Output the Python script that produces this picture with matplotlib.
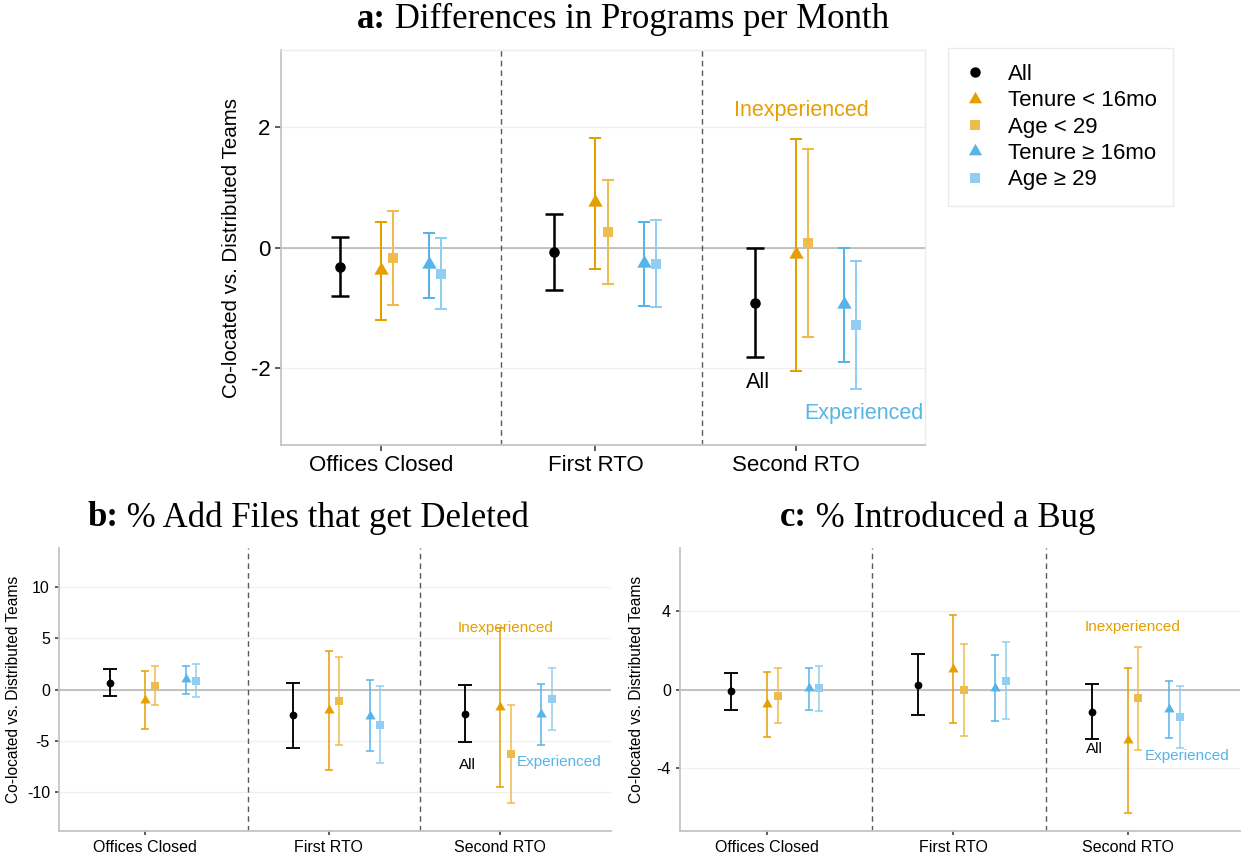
import numpy as np
import matplotlib.pyplot as plt
from matplotlib.lines import Line2D
from matplotlib.colors import to_rgb

plt.rcParams['font.family'] = ['Liberation Sans', 'DejaVu Sans']
plt.rcParams['axes.unicode_minus'] = False

categories = ['Offices Closed', 'First RTO', 'Second RTO']
groups = ['All', 'Tenure < 16mo', 'Age < 29', 'Tenure \u2265 16mo', 'Age \u2265 29']

# a: programs per month  (rows follow `groups`, columns follow `categories`)
a_est = [[-0.32, -0.08, -0.92], [-0.38, 0.76, -0.10], [-0.18, 0.26, 0.07],
         [-0.28, -0.26, -0.94], [-0.44, -0.27, -1.29]]
a_lo = [[-0.81, -0.71, -1.83], [-1.21, -0.35, -2.06], [-0.95, -0.61, -1.49],
        [-0.84, -0.97, -1.91], [-1.02, -0.99, -2.36]]
a_hi = [[0.17, 0.55, 0.00], [0.43, 1.83, 1.81], [0.61, 1.13, 1.64],
        [0.24, 0.43, 0.00], [0.16, 0.46, -0.22]]

# b: % add files that get deleted
b_est = [[0.65, -2.48, -2.38], [-1.00, -1.99, -1.73], [0.39, -1.11, -6.25],
         [1.00, -2.54, -2.38], [0.85, -3.42, -0.94]]
b_lo = [[-0.65, -5.70, -5.15], [-3.88, -7.85, -9.51], [-1.47, -5.37, -11.07],
        [-0.46, -6.03, -5.37], [-0.75, -7.13, -3.97]]
b_hi = [[1.99, 0.68, 0.42], [1.76, 3.75, 5.96], [2.28, 3.16, -1.47],
        [2.28, 0.88, 0.52], [2.48, 0.33, 2.08]]

# c: % introduced a bug
c_est = [[-0.10, 0.25, -1.14], [-0.73, 1.05, -2.56], [-0.31, -0.03, -0.44],
         [0.07, 0.08, -0.98], [0.07, 0.44, -1.41]]
c_lo = [[-1.05, -1.29, -2.53], [-2.41, -1.69, -6.24], [-1.69, -2.37, -3.05],
        [-1.05, -1.61, -2.44], [-1.10, -1.51, -2.98]]
c_hi = [[0.85, 1.81, 0.27], [0.88, 3.75, 1.08], [1.08, 2.32, 2.17],
        [1.08, 1.73, 0.44], [1.20, 2.39, 0.17]]


def lighten(color, alpha):
    r, g, b = to_rgb(color)
    return (r * alpha + 1 - alpha, g * alpha + 1 - alpha, b * alpha + 1 - alpha)


ORANGE = '#E69F00'
BLUE = '#56B4E9'
TRI = [(0, 1), (-0.866, -0.5), (0.866, -0.5)]
colors = ['black', ORANGE, lighten(ORANGE, 0.7), BLUE, lighten(BLUE, 0.65)]
markers = ['o', TRI, 's', TRI, 's']

# layout: category positions, dodge per group, period dividers
cat_pos = np.array([0.93, 2.0, 3.0])
dodge = [-0.205, 0.0, 0.06, 0.24, 0.30]
dividers = [1.53, 2.53]
xlim = (0.43, 3.645)


def draw_panel(ax, est, lo, hi, ylim, yticks, big, label_pos, ann):
    fs = 16 if big else 11.5
    ms = [7.6, 12.0, 7.6, 12.0, 7.6] if big else [5.6, 8.5, 5.6, 8.5, 5.6]
    lw = [1.8, 1.45, 1.45, 1.45, 1.45] if big else [1.35, 1.1, 1.1, 1.1, 1.1]
    cap = [6.8, 4.0, 4.0, 4.0, 4.0] if big else [4.7, 2.9, 2.9, 2.9, 2.9]

    ax.axhline(0, color='#bdbdbd', lw=1.3, zorder=1)
    for d in dividers:
        ax.axvline(d, color='#5a5a5a', lw=1.0, ls=(0, (4, 3)), zorder=1)

    for i in range(len(groups)):
        e = np.array(est[i])
        yerr = [e - np.array(lo[i]), np.array(hi[i]) - e]
        ax.errorbar(cat_pos + dodge[i], e, yerr=yerr, fmt='none',
                    ecolor=colors[i], elinewidth=lw[i], capsize=cap[i],
                    capthick=lw[i], zorder=3)
        ax.plot(cat_pos + dodge[i], e, ls='none', marker=markers[i],
                color=colors[i], ms=ms[i], mew=0, zorder=4)

    ax.set_xlim(*xlim)
    ax.set_ylim(*ylim)
    ax.set_xticks(cat_pos)
    ax.set_xticklabels(categories)
    ax.set_yticks(yticks)
    ax.set_yticklabels([str(t) for t in yticks])
    ax.tick_params(labelsize=fs, colors='#333333', length=4 if big else 3,
                   width=1.1, labelcolor='black')
    ax.grid(axis='y', color='#f0f0f0', lw=1.0, zorder=0)
    ax.set_axisbelow(True)
    if big:
        # faint frame on the top panel
        for s in ['top', 'right']:
            ax.spines[s].set_color('#ebebeb')
            ax.spines[s].set_linewidth(1.0)
    else:
        for s in ['top', 'right']:
            ax.spines[s].set_visible(False)
    for s in ['left', 'bottom']:
        ax.spines[s].set_color('#c4c4c4')
        ax.spines[s].set_linewidth(1.3)

    ax.set_ylabel('Co-located vs. Distributed Teams', fontsize=14.8 if big else 11.2)
    ax.yaxis.set_label_coords(label_pos, 0.5)

    # group annotations next to the Second RTO estimates
    tfs = 15.5 if big else 11
    ax.text(3.03, ann[0], 'Inexperienced', color=ORANGE, fontsize=tfs,
            ha='center', va='center')
    ax.text(2.81, ann[1], 'All', color='black', fontsize=tfs,
            ha='center', va='center')
    ax.text(3.34, ann[2], 'Experienced', color=BLUE, fontsize=tfs,
            ha='center', va='center')


W, H = 1246, 857
fig = plt.figure(figsize=(W / 100, H / 100), dpi=100)


def px_axes(left, top, right, bottom):
    return fig.add_axes([left / W, 1 - bottom / H, (right - left) / W, (bottom - top) / H])


ax_a = px_axes(281, 50, 925, 445)
ax_b = px_axes(59, 548, 611, 831)
ax_c = px_axes(680, 548, 1240, 831)

draw_panel(ax_a, a_est, a_lo, a_hi, (-3.29, 3.29), [-2, 0, 2], True, -0.062,
           (2.28, -2.25, -2.77))
draw_panel(ax_b, b_est, b_lo, b_hi, (-13.8, 13.8), [-10, -5, 0, 5, 10], False, -0.068,
           (5.96, -7.33, -7.1))
draw_panel(ax_c, c_est, c_lo, c_hi, (-7.17, 7.17), [-4, 0, 4], False, -0.065,
           (3.15, -3.0, -3.35))

# legend with just the point shapes
handles = [Line2D([], [], ls='none', marker=markers[i], color=colors[i], mew=0,
                  ms=[7.5, 11.0, 7.5, 11.0, 7.5][i]) for i in range(len(groups))]
leg = fig.legend(handles, groups, loc='upper left', bbox_to_anchor=(948 / W, 1 - 48 / H),
                 fontsize=16, frameon=True, fancybox=False, edgecolor='#e6e6e6',
                 handlelength=1.0, handletextpad=1.0, labelspacing=0.24,
                 borderpad=0.72, borderaxespad=0)
leg.get_frame().set_linewidth(1.0)

# titles: bold panel letter followed by regular text, centred as a whole
serif = ['Liberation Serif', 'DejaVu Serif']
title_specs = [('a:', ' Differences in Programs per Month', 623, 19),
               ('b:', ' % Add Files that get Deleted', 308, 518),
               ('c:', ' % Introduced a Bug', 938, 518)]
fig.canvas.draw()
renderer = fig.canvas.get_renderer()
for letter, rest, cx, cy in title_specs:
    t1 = fig.text(0, 1 - cy / H, letter, fontsize=25, fontweight='bold',
                  family=serif, va='center', ha='left')
    t2 = fig.text(0, 1 - cy / H, rest, fontsize=25, family=serif,
                  va='center', ha='left')
    w1 = t1.get_window_extent(renderer).width
    w2 = t2.get_window_extent(renderer).width
    x0 = cx - (w1 + w2) / 2
    t1.set_x(x0 / W)
    t2.set_x((x0 + w1) / W)

fig.savefig('out.png', dpi=100)
